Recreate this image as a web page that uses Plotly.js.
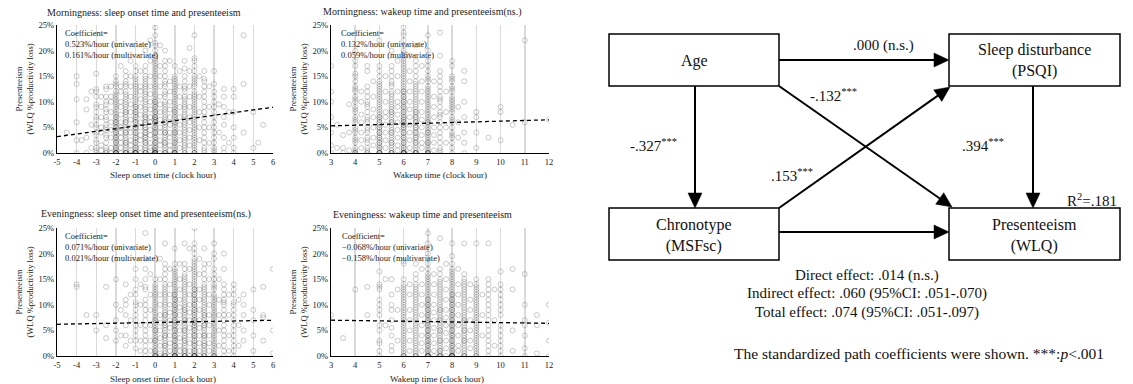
<!DOCTYPE html>
<html><head><meta charset="utf-8">
<script src="https://cdn.plot.ly/plotly-3.0.1.min.js"></script>
<style>html,body{margin:0;padding:0;background:#fff}#chart{width:1133px;height:384px}</style>
</head><body><div id="chart"></div>
<script>
// ---------------- DATA ----------------
const panelTitles = [
  "Morningness: sleep onset time and presenteeism",
  "Morningness: wakeup time and presenteeism(ns.)",
  "Eveningness: sleep onset time and presenteeism(ns.)",
  "Eveningness: wakeup time and presenteeism"
];
const xAxisTitles = ["Sleep onset time (clock hour)", "Wakeup time (clock hour)", "Sleep onset time (clock hour)", "Wakeup time (clock hour)"];
const yAxisTitle = "Presenteeism<br>(WLQ %productivity loss)";
const coefUnivariate = ["0.523%/hour (univariate)", "0.132%/hour (univariate)", "0.071%/hour (univariate)", "\u22120.068%/hour (univariate)"];
const coefMultivariate = ["0.161%/hour (multivariate)", "0.059%/hour (multivariate)", "0.021%/hour (multivariate)", "\u22120.158%/hour (multivariate)"];
const onsetTickVals = [-5,-4,-3,-2,-1,0,1,2,3,4,5,6];
const onsetTickText = ["-5","-4","-3","-2","-1","0","1","2","3","4","5","6"];
const wakeTickVals = [3,4,5,6,7,8,9,10,11,12];
const wakeTickText = ["3","4","5","6","7","8","9","10","11","12"];
const yTickVals = [0,5,10,15,20,25];
const yTickText = ["0%","5%","10%","15%","20%","25%"];
const trendIntercepts = [5.8, 4.9, 6.55, 7.2];   // % at clock hour 0
const trendSlopes = [0.523, 0.132, 0.071, -0.068]; // %/hour

// columns: [clock hour, "presenteeism % values"]
const morningOnset = [
  [-4.5,"4"],[-4,"15 13.5 10.5 6 2.5 0"],[-3.75,"2.5"],[-3.5,"10.5 8.5 3 0"],[-3.25,"12 5.5 1"],
  [-3,"15.5 12.5 12 11 9.5 9 8 7 6.5 5.5 5 4 3.5 2.5 2 1 0.5 0"],
  [-2.75,"11 9 7 5 4 1.5 0.5"],
  [-2.5,"13 12.5 11 10 9.5 8.5 8 7 6.5 5.5 5 4.5 3.5 3 2 1 0.5 0 0"],
  [-2.25,"13 11 10 8 6 4.5 3 1 0"],
  [-2,"15 14 13.5 13 12 11.5 11 10.5 10 9.5 9 8.5 8 7.5 7 6.5 6 5.5 5 4.5 4 3.5 3 2.5 2 1.5 1 0.5 0 0 0 0 0 0 7 6 5 4 3 2 1"],
  [-1.75,"17 13 12 10 9 7.5 6 5 4 3 2 1 0"],
  [-1.5,"16 15 14 13.5 13 12 11.5 11 10.5 10 9.5 9 8.5 8 7.5 7 6.5 6 5.5 5 4.5 4 3.5 3 2.5 2 1.5 1 0.5 0 0 0 0 8 6 4 2"],
  [-1.25,"18 15 13 11 9.5 8 6.5 5 4 2.5 1.5 0.5 0"],
  [-1,"17 16 15 14.5 14 13.5 13 12.5 12 11.5 11 10.5 10 9.5 9 8.5 8 7.5 7 6.5 6 5.5 5 4.5 4 3.5 3 2.5 2 1.5 1 0.5 0 0 0 0 0 0 0 9 8 7 6 5 4 3 2 1"],
  [-0.75,"16 13 12 10.5 9 7.5 6 5 3.5 2.5 1 0"],
  [-0.5,"20 17 16 15 14.5 14 13.5 13 12.5 12 11.5 11 10.5 10 9.5 9 8.5 8 7.5 7 6.5 6 5.5 5 4.5 4 3.5 3 2.5 2 1.5 1 0.5 0 0 0 0 7 6 5 4 3 2"],
  [-0.25,"22 18 15 13 11.5 10 8.5 7 6 4.5 3.5 2 1 0.5"],
  [0,"24.5 23 21.5 21 20 19 18.5 18 17.5 17 16.5 16 15.5 15 14.5 14 13.5 13 12.5 12 11.5 11 10.5 10 9.5 9 8.5 8 7.5 7 6.5 6 5.5 5 4.5 4 3.5 3 2.5 2 1.5 1 0.5 0 0 0 0 0 0 0 0 10 9 8 7 7 6.5 6 5 4 3 2 1 0.5"],
  [0.25,"21 17 15 13 11 9.5 8 6.5 5 4 2.5 1.5 0"],
  [0.5,"20 18 17 16 15 14 13.5 13 12 11.5 11 10 9.5 9 8.5 8 7.5 7 6.5 6 5.5 5 4.5 4 3.5 3 2.5 2 1.5 1 0.5 0 0 0 6 4 2"],
  [0.75,"18 14 12 10 8.5 7 5.5 4 3 1.5 0.5"],
  [1,"17 15 14.5 14 13.5 13 12.5 12 11.5 11 10.5 10 9.5 9 8.5 8 7.5 7 6.5 6 5.5 5 4.5 4 3.5 3 2.5 2 1.5 1 0.5 0 0 0 0 0 8 6 4 2"],
  [1.25,"16 13 11 9 7 5.5 4 2.5 1"],
  [1.5,"18 16.5 15 14 13 12.5 12 11 10.5 10 9.5 9 8.5 8 7.5 7 6.5 6 5.5 5 4.5 4 3.5 3 2.5 2 1.5 1 0.5 0 0"],
  [1.75,"20.5 16 13 11 9 7 6 4.5 3 1.5"],
  [2,"23 18.5 18 17 16 15 14.5 14 13.5 13 12 11.5 11 10.5 10 9.5 9 8.5 8 7.5 7 6.5 6 5.5 5 4.5 4 3.5 3 2.5 2 1.5 1 0.5 0 0 0"],
  [2.25,"15 11 8 5 2.5"],
  [2.5,"16 14.5 14 13 12 11 10 9 8 7 6 5 4 3 2 1 0.5 0"],
  [2.75,"13 9 5 2"],
  [3,"16 13.5 12 11 10 9 8 7 6 5 4 3 2 1 0.5 0"],
  [3.25,"9.5 4"],[3.5,"12.5 11 9 7 5.5 3 1 0"],[3.75,"8 2"],[4,"12.5 11 8 5 3 1 0"],
  [4.5,"23 13.5 4"],[5,"8 1"],[5.25,"2"],[5.5,"5.5"]
];
const morningWake = [
  [3,"17 12 10 7 4 1.5 0"],[3.25,"5.5 1"],[3.5,"3.5 1 0"],[3.75,"9.5 4 0.5"],
  [4,"20 18 17 15.5 15 14 13 12.5 12 11 10.5 10 9 8.5 8 7 6.5 6 5 4.5 4 3 2.5 2 1 0.5 0 0 0"],
  [4.25,"12 10 7.5 6 4 2.5 1"],
  [4.5,"17 16 13 12 11 10 9.5 9 8 7 6.5 6 5 4.5 4 3 2.5 2 1 0.5 0 0"],
  [4.75,"14 11 8.5 7 5 3 1.5"],
  [5,"22 17 16 15 14 13.5 13 12.5 12 11.5 11 10.5 10 9.5 9 8.5 8 7.5 7 6.5 6 5.5 5 4.5 4 3.5 3 2.5 2 1.5 1 0.5 0 0 0 0 0 7 6 5 4 3 2 1"],
  [5.25,"15 12 10 8 7 5.5 4 2.5 1"],
  [5.5,"20 17 16 15 14 13.5 13 12 11.5 11 10.5 10 9.5 9 8.5 8 7.5 7 6.5 6 5.5 5 4.5 4 3.5 3 2.5 2 1.5 1 0.5 0 0 0 0 8 6 4 2"],
  [5.75,"18 15 12 10 9 7.5 6 4.5 3 1.5 0.5"],
  [6,"24.5 23.5 23 22 21 20 19.5 19 18.5 18 17.5 17 16.5 16 15.5 15 14.5 14 13.5 13 12.5 12 11.5 11 10.5 10 9.5 9 8.5 8 7.5 7 6.5 6 5.5 5 4.5 4 3.5 3 2.5 2 1.5 1 0.5 0 0 0 0 0 0 0 0 12 11 10 9 8 7 6.5 6 5.5 5 4 3 2 1"],
  [6.25,"19 16 14 12 10 8.5 7 5.5 4 2.5 1 0"],
  [6.5,"21 18 17 16 15 14 13.5 13 12.5 12 11.5 11 10.5 10 9.5 9 8.5 8 7.5 7 6.5 6 5.5 5 4.5 4 3.5 3 2.5 2 1.5 1 0.5 0 0 0 0 0 8 7 6 5 4 3 2"],
  [6.75,"17 14 12 10 8 6.5 5 3.5 2 1"],
  [7,"23 20 18 17 16 15 14.5 14 13 12.5 12 11.5 11 10.5 10 9.5 9 8.5 8 7.5 7 6.5 6 5.5 5 4.5 4 3.5 3 2.5 2 1.5 1 0.5 0 0 0 0 0 6 4 2"],
  [7.25,"14 11 9 7 5 3.5 2 0.5"],
  [7.5,"23.5 19 16 15 14 13 12 11 10.5 10 9 8 7.5 7 6 5 4 3 2 1 0.5 0"],
  [7.75,"12 8 5 2"],
  [8,"18 17 15 14.5 14 13 12.5 12 11 10.5 10 9.5 9 8.5 8 7 6.5 6 5 4 3.5 3 2 1 0"],
  [8.25,"9 6 3"],[8.5,"16 14 10 7 4 2 0"],[9,"8 7 4 1"],[9.5,"3"],[10,"9 8 2.5"],[10.5,"5.5"],[11,"22 6"],[12,"6.5"]
];
const eveningOnset = [
  [-4,"14 13.5"],[-3.5,"8"],[-3,"8 5"],[-2.5,"13.5 6 3.5"],[-2,"15 10 7 5 3"],[-1.75,"9 4"],
  [-1.5,"14 11 10 8 6 4 2"],[-1.25,"12 7 3"],
  [-1,"17 15 13 12 10.5 10 9 8 7 6 5 4 3 1.5"],
  [-0.75,"14 10 6 3 1"],
  [-0.5,"24 19 17 15 13.5 13 11 10 9 8 7 6 5 4 3 2 1 0"],
  [-0.25,"16 12 9 6 3 1"],
  [0,"15 14 13.5 13 12.5 12 11.5 11 10.5 10 9.5 9 8.5 8 7.5 7 6.5 6 5.5 5 4.5 4 3.5 3 2.5 2 1.5 1 0.5 0 0 0 0 7 5 3 1"],
  [0.25,"19 15 12 10 8 6.5 5 3.5 2 0.5 0"],
  [0.5,"22 18 17 16 15 14 13.5 13 12.5 12 11.5 11 10.5 10 9.5 9 8.5 8 7.5 7 6.5 6 5.5 5 4.5 4 3.5 3 2.5 2 1.5 1 0.5 0 0 0 8 6 4 2"],
  [0.75,"17 14 12 10 8.5 7 5.5 4 2.5 1 0"],
  [1,"21 18 17 16.5 16 15.5 15 14.5 14 13.5 13 12.5 12 11.5 11 10.5 10 9.5 9 8.5 8 7.5 7 6.5 6 5.5 5 4.5 4 3.5 3 2.5 2 1.5 1 0.5 0 0 0 0 0 0 12 11 10 9 8 7 6 5 4 3 2 1"],
  [1.25,"18 15 13 11 9.5 8 6.5 5 3.5 2 1 0"],
  [1.5,"22 18 17 16 15.5 15 14.5 14 13.5 13 12.5 12 11.5 11 10.5 10 9.5 9 8.5 8 7.5 7 6.5 6 5.5 5 4.5 4 3.5 3 2.5 2 1.5 1 0.5 0 0 0 0 9 7 5 3 1"],
  [1.75,"21 17 14 12 10 8.5 7 5.5 4 2.5 1 0"],
  [2,"25 22 21 20 19 18.5 18 17.5 17 16.5 16 15.5 15 14.5 14 13.5 13 12.5 12 11.5 11 10.5 10 9.5 9 8.5 8 7.5 7 6.5 6 5.5 5 4.5 4 3.5 3 2.5 2 1.5 1 0.5 0 0 0 0 0 0 0 13 12 11 10 9 8 7 6.5 6 5 4 3 2 1"],
  [2.25,"19 16 13 11 9 7 5.5 4 2.5 1 0"],
  [2.5,"21 18 17 16 15 14 13.5 13 12.5 12 11.5 11 10.5 10 9.5 9 8.5 8 7.5 7 6.5 6 5.5 5 4.5 4 3.5 3 2.5 2 1.5 1 0.5 0 0 0 8 6 4 2"],
  [2.75,"18 15 12 10 8 6 4 2.5 1"],
  [3,"22 20 19 17 16 15 14 13.5 13 12 11.5 11 10.5 10 9.5 9 8.5 8 7.5 7 6.5 6 5.5 5 4.5 4 3.5 3 2.5 2 1.5 1 0.5 0 0 0"],
  [3.25,"15 11 8 5 2"],
  [3.5,"20 17 14 13 12 11 10.5 10 9 8 7 6 5 4 3 2 1 0"],
  [3.75,"12 8 4 1"],
  [4,"14 13 12 10.5 10 9 8 7 6 5 4 3 2 1 0"],
  [4.25,"11 6 2"],[4.5,"12 10 8 5 3"],[5,"13 9 7 4 1"],[5.5,"13.5 8 7.5 3"],[6,"17 5 0.5"]
];
const eveningWake = [
  [3,"8"],[3.5,"3.5"],[4,"13"],[4.5,"13.5 8"],
  [5,"16.5 14 13.5 13 11 10 9 8 6 5 3 2.5 1 0"],[5.25,"15 6"],
  [5.5,"15 12 10 9 7 5.5 4 2 1"],[5.75,"13 9 3"],
  [6,"18.5 18 15 14 13.5 13 12.5 12 11.5 11 10.5 10 9.5 9 8.5 8 7.5 7 6.5 6 5.5 5 4.5 4 3.5 3 2.5 2 1.5 1 0.5 0 0 0"],
  [6.25,"14 12 9 7 5 3 1"],
  [6.5,"18 16 15 14 13.5 13 12.5 12 11.5 11 10.5 10 9.5 9 8.5 8 7.5 7 6.5 6 5.5 5 4.5 4 3.5 3 2.5 2 1.5 1 0.5 0 0 0"],
  [6.75,"17 14 12 10 8 6 4 2.5 1"],
  [7,"24 22 20 18 17 16 15.5 15 14.5 14 13.5 13 12.5 12 11.5 11 10.5 10 9.5 9 8.5 8 7.5 7 6.5 6 5.5 5 4.5 4 3.5 3 2.5 2 1.5 1 0.5 0 0 0 0 0 0 11 10 9 8 7 6 5 4 3 2 1"],
  [7.25,"16 14 12 10 8.5 7 5.5 4 2.5 1 0"],
  [7.5,"23 17 16 15 14.5 14 13.5 13 12.5 12 11.5 11 10.5 10 9.5 9 8.5 8 7.5 7 6.5 6 5.5 5 4.5 4 3.5 3 2.5 2 1.5 1 0.5 0 0 0 0 9 7 5 3 1"],
  [7.75,"18 15 13 11 9 7.5 6 4.5 3 1.5 0"],
  [8,"22 19.5 18 17 16.5 16 15.5 15 14.5 14 13.5 13 12.5 12 11.5 11 10.5 10 9.5 9 8.5 8 7.5 7 6.5 6 5.5 5 4.5 4 3.5 3 2.5 2 1.5 1 0.5 0 0 0 0 0 0 0 12 11 10 9 8 7 6 5 4 3 2 1"],
  [8.25,"17 14 12 10 8 6 4 2 1"],
  [8.5,"22 16 15 14.5 14 13.5 13 12.5 12 11.5 11 10.5 10 9.5 9 8.5 8 7.5 7 6.5 6 5.5 5 4.5 4 3.5 3 2.5 2 1.5 1 0.5 0 0 0 7 5 3"],
  [8.75,"14 11 9 7 5 3 1.5"],
  [9,"22 15 14 13.5 13 12.5 12 11.5 11 10.5 10 9.5 9 8.5 8 7.5 7 6.5 6 5.5 5 4.5 4 3.5 3 2.5 2 1.5 1 0.5 0 0"],
  [9.25,"12 8 4"],
  [9.5,"22 15 14 13 12 11 10 9 8 7 6 5 4 3 2 1 0"],
  [9.75,"13 7 2"],
  [10,"16.5 14 13 12 11 10 9 8 6 5 4 3 2 1 0"],
  [10.5,"17 13 5 1"],[11,"16 10 7 6 4 1.5 0"],[11.5,"8 6 0.5"],[12,"10 6.5 3 0"]
];

// path diagram
const nodeLabels = ["Age", "Sleep disturbance<br>(PSQI)", "Chronotype<br>(MSFsc)", "Presenteeism<br>(WLQ)"];
const pathLabels = [".000 (n.s.)", "-.132<sup>***</sup>", "-.327<sup>***</sup>", ".394<sup>***</sup>", ".153<sup>***</sup>"];
const r2Label = "R<sup>2</sup>=.181";
const effectLines = ["Direct effect: .014 (n.s.)", "Indirect effect: .060 (95%CI: .051-.070)", "Total effect: .074 (95%CI: .051-.097)"];
const noteText = "The standardized path coefficients were shown. ***:<i>p</i>&lt;.001";

// ---------------- LAYOUT ----------------
const W = 1133, H = 384;
const FONT = '"Liberation Serif", "Times New Roman", Times, serif';
const PX = v => v / W, PY = v => 1 - v / H;

const panels = [
  {cols: morningOnset, range: [-5, 6], tv: onsetTickVals, tt: onsetTickText, x0: 57, x1: 273, top: 25, bot: 153, title: [144, 12], coef: [63, 26], xt: [163, 175]},
  {cols: morningWake, range: [3, 12], tv: wakeTickVals, tt: wakeTickText, x0: 331, x1: 549, top: 25, bot: 153, title: [422, 12], coef: [339, 26], xt: [440, 175]},
  {cols: eveningOnset, range: [-5, 6], tv: onsetTickVals, tt: onsetTickText, x0: 57, x1: 273, top: 228, bot: 356, title: [146, 214], coef: [63, 229], xt: [163, 379]},
  {cols: eveningWake, range: [3, 12], tv: wakeTickVals, tt: wakeTickText, x0: 331, x1: 549, top: 228, bot: 356, title: [422, 214], coef: [340, 229], xt: [437, 379]}
];

const traces = [];
const layout = {
  width: W, height: H, margin: {l: 0, r: 0, t: 0, b: 0},
  paper_bgcolor: '#fff', plot_bgcolor: 'rgba(0,0,0,0)',
  showlegend: false, font: {family: FONT, color: '#222'},
  annotations: [], shapes: []
};

panels.forEach((p, i) => {
  const n = i + 1;
  const xs = [], ys = [];
  p.cols.forEach(c => c[1].split(' ').forEach(v => { xs.push(c[0]); ys.push(parseFloat(v)); }));
  const xa = 'x' + (n === 1 ? '' : n), ya = 'y' + (n === 1 ? '' : n);
  traces.push({type: 'scatter', mode: 'markers', x: xs, y: ys, xaxis: xa, yaxis: ya,
    marker: {symbol: 'circle-open', size: 5, color: 'rgba(40,40,40,0.3)', line: {width: 0.8}},
    hoverinfo: 'x+y'});
  const tx = p.range.slice();
  traces.push({type: 'scatter', mode: 'lines', x: tx, y: tx.map(v => trendIntercepts[i] + trendSlopes[i] * v),
    xaxis: xa, yaxis: ya, line: {color: '#000', width: 1.3, dash: '4px,3px'}, hoverinfo: 'skip'});
  layout['xaxis' + (n === 1 ? '' : n)] = {
    domain: [PX(p.x0), PX(p.x1)], range: p.range, anchor: ya, tickvals: p.tv, ticktext: p.tt,
    showgrid: true, gridcolor: '#dadada', gridwidth: 1.5, zeroline: false,
    showline: true, linecolor: '#000', linewidth: 1.3, ticks: '',
    tickfont: {family: FONT, size: 8.5, color: '#222'}
  };
  layout['yaxis' + (n === 1 ? '' : n)] = {
    domain: [PY(p.bot), PY(p.top)], range: [0, 25], anchor: xa, tickvals: yTickVals, ticktext: yTickText,
    showgrid: false, zeroline: false, showline: true, linecolor: '#000', linewidth: 1.2, ticks: '',
    tickfont: {family: FONT, size: 8.5, color: '#222'},
    title: {text: yAxisTitle, font: {family: FONT, size: 8.5, color: '#222'}, standoff: 3}
  };
  layout.annotations.push({xref: 'paper', yref: 'paper', x: PX(p.title[0]), y: PY(p.title[1]),
    text: panelTitles[i], showarrow: false, xanchor: 'center', yanchor: 'middle',
    font: {family: FONT, size: 10, color: '#222'}});
  layout.annotations.push({xref: 'paper', yref: 'paper', x: PX(p.xt[0]), y: PY(p.xt[1]),
    text: xAxisTitles[i], showarrow: false, xanchor: 'center', yanchor: 'middle',
    font: {family: FONT, size: 9, color: '#222'}});
  layout.annotations.push({xref: 'paper', yref: 'paper', x: PX(p.coef[0]), y: PY(p.coef[1]),
    text: 'Coefficient=<br>' + coefUnivariate[i] + '<br>' + coefMultivariate[i], showarrow: false,
    xanchor: 'left', yanchor: 'top', align: 'left', font: {family: FONT, size: 8.5, color: '#222'}});
});

// ---- path diagram (pixel positions in the figure) ----
const boxes = [[609, 34, 779, 86], [949, 34, 1120, 86], [609, 208, 779, 260], [949, 208, 1120, 260]];
boxes.forEach((b, i) => {
  layout.shapes.push({type: 'rect', xref: 'paper', yref: 'paper', x0: PX(b[0]), x1: PX(b[2]), y0: PY(b[3]), y1: PY(b[1]),
    line: {color: '#000', width: 1.5}, fillcolor: '#fff', layer: 'above'});
  layout.annotations.push({xref: 'paper', yref: 'paper', x: PX((b[0] + b[2]) / 2), y: PY((b[1] + b[3]) / 2 + 1),
    text: nodeLabels[i], showarrow: false, xanchor: 'center', yanchor: 'middle',
    font: {family: FONT, size: 16, color: '#111'}});
});
// arrows: [tailX, tailY, headX, headY] -> line + filled triangle head
const arrows = [[779, 60, 949, 60], [695, 86, 695, 208], [1033, 86, 1033, 208], [779, 232, 949, 232], [779, 86, 952, 207], [779, 208, 950, 87]];
const HL = 15, HW = 7;
arrows.forEach(a => {
  const dx = a[2] - a[0], dy = a[3] - a[1], len = Math.hypot(dx, dy);
  const ux = dx / len, uy = dy / len;
  const bx = a[2] - ux * HL, by = a[3] - uy * HL;
  layout.shapes.push({type: 'line', xref: 'paper', yref: 'paper', x0: PX(a[0]), y0: PY(a[1]), x1: PX(bx + ux), y1: PY(by + uy),
    line: {color: '#000', width: 2}});
  const p1 = [a[2], a[3]], p2 = [bx - uy * HW, by + ux * HW], p3 = [bx + uy * HW, by - ux * HW];
  layout.shapes.push({type: 'path', xref: 'paper', yref: 'paper',
    path: 'M' + PX(p1[0]) + ',' + PY(p1[1]) + 'L' + PX(p2[0]) + ',' + PY(p2[1]) + 'L' + PX(p3[0]) + ',' + PY(p3[1]) + 'Z',
    fillcolor: '#000', line: {color: '#000', width: 0.5}});
});
const pathPos = [[883, 46], [833, 95], [653, 145], [983, 145], [792, 175]];
pathLabels.forEach((t, i) => {
  layout.annotations.push({xref: 'paper', yref: 'paper', x: PX(pathPos[i][0]), y: PY(pathPos[i][1]), text: t,
    showarrow: false, xanchor: 'center', yanchor: 'middle', font: {family: FONT, size: 15, color: '#111'}});
});
layout.annotations.push({xref: 'paper', yref: 'paper', x: PX(1119), y: PY(200), text: r2Label, showarrow: false,
  xanchor: 'right', yanchor: 'middle', font: {family: FONT, size: 15, color: '#111'}});
effectLines.forEach((t, i) => {
  layout.annotations.push({xref: 'paper', yref: 'paper', x: PX(867), y: PY(275 + i * 18.5), text: t, showarrow: false,
    xanchor: 'center', yanchor: 'middle', font: {family: FONT, size: 15, color: '#111'}});
});
layout.annotations.push({xref: 'paper', yref: 'paper', x: PX(919), y: PY(353), text: noteText, showarrow: false,
  xanchor: 'center', yanchor: 'middle', font: {family: FONT, size: 15.5, color: '#111'}});

Plotly.newPlot('chart', traces, layout, {staticPlot: true, displayModeBar: false});
</script>
</body></html>
